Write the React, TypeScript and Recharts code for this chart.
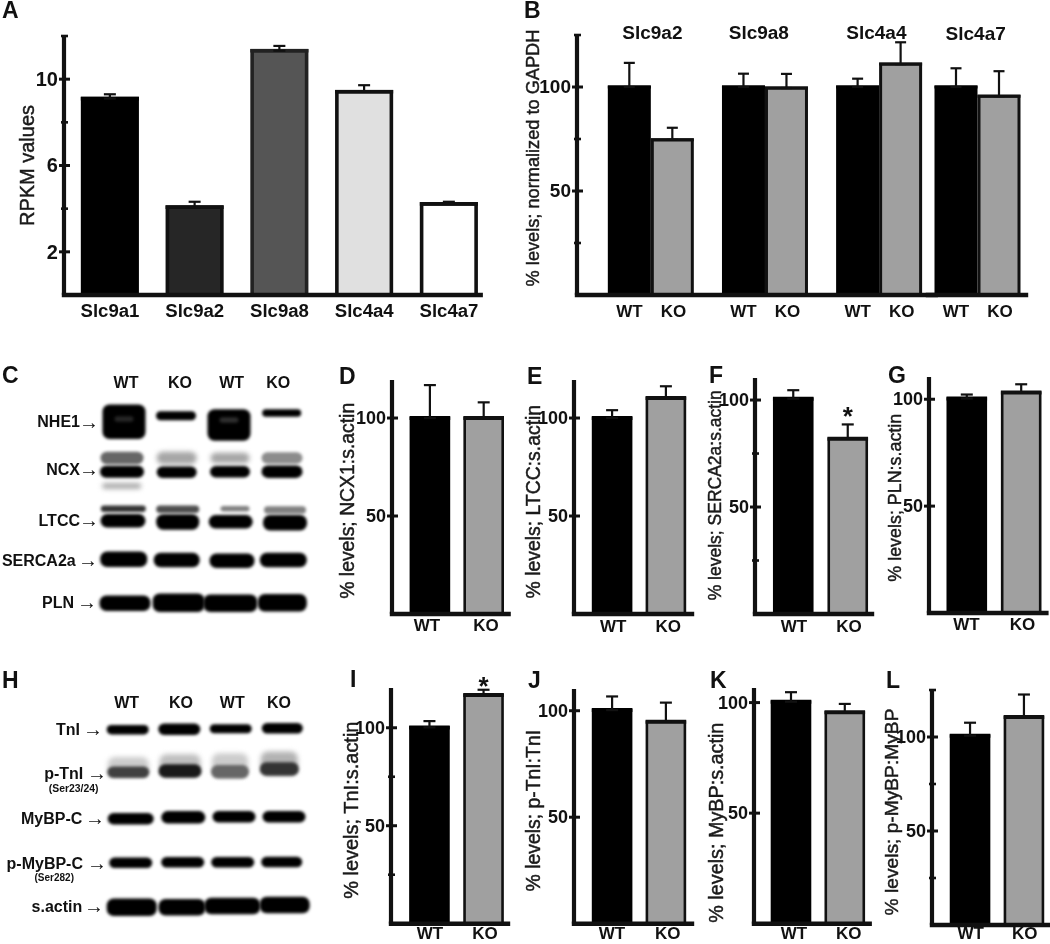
import React from "react";
import {
  BarChart,
  Bar,
  ErrorBar,
  XAxis,
  YAxis,
  ScatterChart,
  Scatter,
} from "recharts";

const FONT = '"Liberation Sans", Arial, sans-serif';
const INK = "#111";
const KO_GRAY = "#a0a0a0";

// panel A
const rpkmGenes = ["Slc9a1", "Slc9a2", "Slc9a8", "Slc4a4", "Slc4a7"];
const rpkmValues = [9.1, 4.07, 11.32, 9.42, 4.22];
const rpkmErrors = [0.2, 0.25, 0.22, 0.3, 0.1];
const rpkmFills = ["#000", "#262626", "#555", "#e0e0e0", "#fff"];

// panel B
const qpcrGenes = ["Slc9a2", "Slc9a8", "Slc4a4"];
const qpcrWt = [100, 100, 100];
const qpcrWtErr = [11.6, 6.4, 4];
const qpcrKo = [74.6, 99.5, 111];
const qpcrKoErr = [5.8, 6.8, 10.5];
const qpcrLastGene = ["Slc4a7"];
const qpcrLastWt = [100];
const qpcrLastWtErr = [9];
const qpcrLastKo = [95.6];
const qpcrLastKoErr = [12];

// panels D-G, I-L (WT, KO)
const groups = ["WT", "KO"];
const ncx1Values = [100, 100];
const ncx1Errors = [16.8, 8];
const ltccValues = [100, 110.2];
const ltccErrors = [4, 6];
const sercaValues = [100.6, 81.9];
const sercaErrors = [4, 6.7];
const plnValues = [100.3, 103.1];
const plnErrors = [1.9, 3.9];
const tniValues = [100.2, 116.7];
const tniErrors = [3.2, 2.7];
const pTniValues = [100.3, 94.8];
const pTniErrors = [6.4, 9];
const mybpValues = [100.4, 95.6];
const mybpErrors = [4.3, 3.8];
const pMybpValues = [100.7, 110.6];
const pMybpErrors = [6.9, 12];

// blots: lane position, migration, band width, band thickness, density
const nhe1Bands = [
  [124, 71.7, 42, 33, 1],
  [176, 65.7, 39, 7.5, 1],
  [229, 75, 42, 30, 1],
  [281.7, 63, 38, 6, 1],
  [124, 69, 18, 4, 0.85],
  [229, 70, 18, 4, 0.82],
];
const ncxBands = [
  [122, 108, 42, 11, 0.6],
  [176.7, 108, 39, 11, 0.35],
  [230, 108, 38, 9, 0.35],
  [282, 108, 40, 10, 0.45],
  [122, 121.7, 43, 10.5, 1],
  [176.7, 122.3, 39, 10, 1],
  [230, 121.7, 39, 10, 1],
  [282, 121.7, 40, 11, 1],
  [121.7, 136, 38, 4, 0.35],
];
const ltccBands = [
  [123.3, 158.7, 44, 5, 0.8],
  [177.7, 159.3, 42, 6, 0.7],
  [235, 158.7, 28, 4, 0.5],
  [285, 160, 41, 6, 0.5],
  [123, 170.7, 44, 12, 1],
  [177.7, 172, 42, 14, 1],
  [230.7, 171.7, 43, 12, 1],
  [285, 172.7, 43, 14, 1],
];
const sercaBands = [
  [123.7, 209.3, 46, 14, 1],
  [176.7, 210, 45, 13, 1],
  [232, 210.7, 44, 13, 1],
  [283.3, 210, 46, 13, 1],
];
const plnBands = [
  [125, 253.3, 50, 14, 1],
  [178.7, 252.7, 51, 17, 1],
  [230.3, 253.3, 53, 16, 1],
  [282.3, 252.7, 48, 16, 1],
];
const tniBands = [
  [127.7, 69.7, 41, 8, 1],
  [179.3, 69.3, 41, 10, 1],
  [230.7, 68.7, 41, 7.5, 1],
  [282.3, 68.3, 40, 9, 1],
];
const pTniBands = [
  [128.3, 106.7, 40, 18, 0.2],
  [180, 105, 40, 20, 0.25],
  [230, 105, 35, 22, 0.2],
  [279.3, 103.3, 36, 22, 0.3],
  [128.3, 112.3, 41, 10, 0.75],
  [180, 111, 42, 12, 0.9],
  [230, 111.7, 37, 12, 0.6],
  [279.3, 109, 38, 12, 0.8],
];
const mybpBands = [
  [130.7, 158.7, 45, 10, 1],
  [183.3, 157.3, 43, 11, 1],
  [234, 156.7, 42, 10, 1],
  [284, 156.7, 42, 10, 1],
];
const pMybpBands = [
  [130.7, 202.7, 42, 9, 1],
  [182.7, 202.3, 42, 9, 1],
  [232.7, 202.3, 42, 9, 1],
  [281.7, 202, 40, 9, 1],
];
const actinBands = [
  [131.7, 247.3, 49, 16, 1],
  [182, 247.3, 46, 15, 1],
  [232.3, 246, 55, 15, 1],
  [284.7, 245, 49, 15, 1],
];

const toBands = (rows: number[][]) =>
  rows.map(([lane, migration, width, thickness, density]) => ({
    lane,
    migration,
    width,
    thickness,
    density,
  }));

const wtKo = (values: number[], errors: number[]) =>
  groups.map((name, i) => ({ name, value: values[i], err: [0, errors[i]] }));

const singleSeries = [{ dataKey: "value", errKey: "err" }];
const pairSeries = [
  { dataKey: "wt", errKey: "wtErr", fill: "#000", stroke: "#000" },
  { dataKey: "ko", errKey: "koErr", fill: KO_GRAY, stroke: INK },
];

function BandShape(props: any) {
  const { cx, cy, payload } = props;
  const g = Math.round(255 * (1 - payload.density));
  const w = payload.width + 1;
  const h = payload.thickness + 1.5;
  return (
    <rect
      x={cx - w / 2}
      y={cy - h / 2}
      width={w}
      height={h}
      rx={Math.min(h / 2, 7)}
      fill={`rgb(${g},${g},${g})`}
      style={{ filter: payload.density < 0.4 ? "blur(2.6px)" : "blur(1.4px)" }}
    />
  );
}

function BlotLabel({ name, end, y, arrow, size = 16 }: any) {
  return (
    <g fontFamily={FONT} fill={INK}>
      <text x={end} y={y} textAnchor="end" dominantBaseline="central" fontSize={size} fontWeight="bold">
        {name}
      </text>
      {arrow != null && (
        <text x={arrow} y={y} dominantBaseline="central" fontSize={20}>
          →
        </text>
      )}
    </g>
  );
}

function Blot({ top, height, rows, header, labels }: any) {
  return (
    <div style={{ position: "absolute", left: 0, top }}>
      <ScatterChart width={340} height={height} margin={{ top: 0, right: 0, bottom: 0, left: 0 }}>
        <XAxis type="number" dataKey="lane" domain={[0, 340]} hide />
        <YAxis type="number" dataKey="migration" domain={[0, height]} reversed hide />
        {rows.map((row: number[][], i: number) => (
          <Scatter key={i} data={toBands(row)} shape={BandShape} isAnimationActive={false} />
        ))}
        {header.map(([name, x, y]: any, i: number) => (
          <text
            key={i}
            x={x}
            y={y}
            textAnchor="middle"
            dominantBaseline="central"
            fontFamily={FONT}
            fontWeight="bold"
            fontSize={16}
            fill={INK}
          >
            {name}
          </text>
        ))}
        {labels.map((l: any, i: number) => (
          <BlotLabel key={i} {...l} />
        ))}
      </ScatterChart>
    </div>
  );
}

const PAD = { left: 70, right: 6, top: 44, bottom: 30 };

function BarPanel(p: any) {
  const {
    plot,
    data,
    series = singleSeries,
    fills = ["#000", KO_GRAY],
    strokes = ["#000", INK],
    centers,
    bandWidth,
    barSize = 38,
    barGap = 0,
    stroke = 2.6,
    topStroke = 4,
    domainMax,
    ticks = [],
    labelled = [],
    tickSize = 18,
    hideY = false,
    tickDy,
    tickDx = [],
    tickSizeX = 17,
    renderTick,
    yLabel,
    capHalf = 6,
    marks,
    markOffset = 0,
  } = p;
  const [x0, x1, yTop, base] = plot;
  const left = x0 - PAD.left;
  const top = yTop - PAD.top;
  const width = x1 - x0 + PAD.left + PAD.right;
  const height = base - yTop + PAD.top + PAD.bottom;

  const band = bandWidth ?? (centers[1] - centers[0]) / (data.length - 1);
  const padding = centers
    ? { left: centers[0] - band / 2 - x0, right: x1 - (centers[1] + band / 2) }
    : { left: 0, right: 0 };

  const yTickFn = ({ x, y, payload }: any) => {
    const on = labelled.includes(payload.value);
    return (
      <g>
        <line x1={x - (on ? 5 : 3)} x2={x + (on ? 6 : 4)} y1={y} y2={y} stroke={INK} strokeWidth={on ? 3 : 2.6} />
        {on && (
          <text
            x={x - 6}
            y={y}
            textAnchor="end"
            dominantBaseline="central"
            fontFamily={FONT}
            fontWeight="bold"
            fontSize={tickSize}
            fill={INK}
          >
            {payload.value}
          </text>
        )}
      </g>
    );
  };

  const xTickFn = ({ x, y, payload, index }: any) =>
    renderTick ? (
      renderTick(x, y, payload.value, index, top)
    ) : (
      <text
        x={x + (tickDx[index] ?? 0)}
        y={y + tickDy}
        textAnchor="middle"
        dominantBaseline="central"
        fontFamily={FONT}
        fontWeight="bold"
        fontSize={tickSizeX}
        fill={INK}
      >
        {payload.value}
      </text>
    );

  const barShape = (fillList: string[], strokeList: string[]) => (b: any) => {
    const i = b.index;
    const fill = fillList[i % fillList.length];
    const edge = strokeList[i % strokeList.length];
    return (
      <g>
        <rect x={b.x} y={b.y} width={b.width} height={b.height} fill={fill} stroke={edge} strokeWidth={stroke} />
        <line x1={b.x - stroke / 2} x2={b.x + b.width + stroke / 2} y1={b.y} y2={b.y} stroke={edge} strokeWidth={topStroke} />
        {marks && marks[i] && (
          <text
            x={b.x + b.width / 2}
            y={b.y - markOffset}
            textAnchor="middle"
            fontFamily={FONT}
            fontWeight="bold"
            fontSize={26}
            fill={INK}
          >
            {marks[i]}
          </text>
        )}
      </g>
    );
  };

  return (
    <div style={{ position: "absolute", left, top }}>
      <BarChart
        width={width}
        height={height}
        data={data}
        barGap={barGap}
        margin={{ top: PAD.top, right: PAD.right, bottom: PAD.bottom - 1, left: PAD.left - 1 }}
      >
        <XAxis
          dataKey="name"
          height={1}
          padding={padding}
          interval={0}
          tickLine={false}
          tickSize={0}
          tickMargin={0}
          axisLine={{ stroke: INK, strokeWidth: 4.4, strokeLinecap: "square" }}
          tick={xTickFn}
        />
        <YAxis
          width={1}
          hide={hideY}
          domain={[0, domainMax]}
          ticks={ticks}
          interval={0}
          tickLine={false}
          tickSize={0}
          tickMargin={0}
          axisLine={{ stroke: INK, strokeWidth: 4.2 }}
          tick={yTickFn}
        />
        {series.map((s: any) => (
          <Bar
            key={s.dataKey}
            dataKey={s.dataKey}
            barSize={barSize}
            isAnimationActive={false}
            shape={barShape(s.fill ? [s.fill] : fills, s.stroke ? [s.stroke] : strokes)}
          >
            <ErrorBar dataKey={s.errKey} direction="y" width={capHalf} stroke={INK} strokeWidth={2.2} isAnimationActive={false} />
          </Bar>
        ))}
        {yLabel && (
          <text
            transform={`translate(${yLabel.x - left},${yLabel.y - top}) rotate(-90)`}
            textAnchor="middle"
            dominantBaseline="central"
            fontFamily={FONT}
            fontSize={yLabel.size}
            fill="#1a1a1a"
            stroke="#1a1a1a"
            strokeWidth={0.45}
          >
            {yLabel.text}
          </text>
        )}
      </BarChart>
    </div>
  );
}

const pairTick = (titleNudge: number[]) => (x: number, y: number, value: string, index: number, top: number) => (
  <g fontFamily={FONT} fontWeight="bold" fill={INK} textAnchor="middle" dominantBaseline="central">
    <text x={x - 21} y={y + 16.7} fontSize={17}>
      WT
    </text>
    <text x={x + 23} y={y + 16.7} fontSize={17}>
      KO
    </text>
    <text x={x + titleNudge[index]} y={33 - top} fontSize={19}>
      {value}
    </text>
  </g>
);

const letters: [string, number, number][] = [
  ["A", 2, 18],
  ["B", 524, 18],
  ["C", 2, 383],
  ["D", 339, 384],
  ["E", 527, 384],
  ["F", 709, 383],
  ["G", 888, 383],
  ["H", 2, 688],
  ["I", 350, 687],
  ["J", 528, 688],
  ["K", 710, 688],
  ["L", 886, 688],
];

const blotCHeader = [
  ["WT", 126, 32],
  ["KO", 180, 32],
  ["WT", 231.7, 32],
  ["KO", 278.3, 32],
];
const blotCLabels = [
  { name: "NHE1", end: 80, y: 71.7, arrow: 79 },
  { name: "NCX", end: 80, y: 119, arrow: 79 },
  { name: "LTCC", end: 80, y: 170, arrow: 79 },
  { name: "SERCA2a", end: 75.7, y: 210, arrow: 78 },
  { name: "PLN", end: 74, y: 252.3, arrow: 77 },
];
const blotHHeader = [
  ["WT", 126.7, 42.3],
  ["KO", 181, 42.3],
  ["WT", 232.3, 42.3],
  ["KO", 279, 42.3],
];
const blotHLabels = [
  { name: "TnI", end: 80, y: 69.3, arrow: 83 },
  { name: "p-TnI", end: 83.3, y: 113.3, arrow: 87 },
  { name: "(Ser23/24)", end: 98.5, y: 128.3, size: 10.4 },
  { name: "MyBP-C", end: 82.3, y: 158.3, arrow: 85 },
  { name: "p-MyBP-C", end: 83, y: 203.3, arrow: 87 },
  { name: "(Ser282)", end: 74, y: 217.3, size: 10 },
  { name: "s.actin", end: 82.3, y: 246, arrow: 84 },
];

export default function App() {
  const rpkmData = rpkmGenes.map((name, i) => ({ name, value: rpkmValues[i], err: [0, rpkmErrors[i]] }));
  const qpcrData = qpcrGenes.map((name, i) => ({
    name,
    wt: qpcrWt[i],
    ko: qpcrKo[i],
    wtErr: [0, qpcrWtErr[i]],
    koErr: [0, qpcrKoErr[i]],
  }));
  const qpcrLastData = qpcrLastGene.map((name, i) => ({
    name,
    wt: qpcrLastWt[i],
    ko: qpcrLastKo[i],
    wtErr: [0, qpcrLastWtErr[i]],
    koErr: [0, qpcrLastKoErr[i]],
  }));

  return (
    <div
      style={{
        position: "absolute",
        left: 0,
        top: 0,
        width: 1050,
        height: 944,
        overflow: "hidden",
        background: "#fff",
        filter: "blur(0.35px)",
      }}
    >
      <BarPanel
        plot={[64, 480.7, 36, 295]}
        data={rpkmData}
        fills={rpkmFills}
        strokes={["#000", "#111", "#222", "#111", "#111"]}
        centers={[110, 449]}
        bandWidth={84.75}
        barSize={54.5}
        stroke={3.6}
        topStroke={3.6}
        domainMax={12}
        ticks={[2, 4, 6, 8, 10, 12]}
        labelled={[2, 6, 10]}
        tickSize={20}
        tickDy={15.7}
        tickSizeX={18.6}
        yLabel={{ text: "RPKM values", x: 27, y: 165.5, size: 20 }}
      />
      <BarPanel
        plot={[577.3, 936, 35, 295]}
        data={qpcrData}
        series={pairSeries}
        centers={[650.7, 879]}
        barSize={40}
        barGap={3}
        stroke={3}
        topStroke={3}
        domainMax={125}
        ticks={[25, 50, 75, 100, 125]}
        labelled={[50, 100]}
        tickSize={19}
        renderTick={pairTick([2, -5.7, -2.3])}
        yLabel={{ text: "% levels; normalized to GAPDH", x: 533, y: 158, size: 18.2 }}
        capHalf={5.5}
      />
      <BarPanel
        plot={[929, 1026, 35, 295]}
        data={qpcrLastData}
        series={pairSeries}
        bandWidth={97}
        barSize={40}
        barGap={3}
        stroke={3}
        topStroke={3}
        domainMax={125}
        hideY
        renderTick={pairTick([-1.3])}
        capHalf={5.5}
      />

      <Blot
        top={350}
        height={300}
        rows={[nhe1Bands, ncxBands, ltccBands, sercaBands, plnBands]}
        header={blotCHeader}
        labels={blotCLabels}
      />
      <Blot
        top={660}
        height={284}
        rows={[tniBands, pTniBands, mybpBands, pMybpBands, actinBands]}
        header={blotHHeader}
        labels={blotHLabels}
      />

      <BarPanel
        plot={[391.7, 508.3, 380, 614]}
        data={wtKo(ncx1Values, ncx1Errors)}
        centers={[429.5, 483.3]}
        domainMax={119.4}
        ticks={[50, 100]}
        labelled={[50, 100]}
        tickDy={12}
        tickDx={[-2.8, 2.4]}
        yLabel={{ text: "% levels; NCX1:s.actin", x: 346.7, y: 500.8, size: 19.4 }}
      />
      <BarPanel
        plot={[574, 692, 380, 614]}
        data={wtKo(ltccValues, ltccErrors)}
        centers={[612, 665.8]}
        domainMax={119.4}
        ticks={[50, 100]}
        labelled={[50, 100]}
        tickDy={12}
        tickDx={[1.3, 2.5]}
        yLabel={{ text: "% levels; LTCC:s.actin", x: 533.3, y: 501.7, size: 19.4 }}
      />
      <BarPanel
        plot={[755.3, 872.3, 378, 614]}
        data={wtKo(sercaValues, sercaErrors)}
        centers={[793.8, 848.3]}
        domainMax={110.3}
        ticks={[25, 50, 75, 100]}
        labelled={[50, 100]}
        tickDy={12}
        tickDx={[0.5, 1]}
        marks={["", "*"]}
        markOffset={13.6}
        yLabel={{ text: "% levels; SERCA2a:s.actin", x: 715, y: 495.3, size: 17.5 }}
      />
      <BarPanel
        plot={[929.3, 1046.7, 377.3, 613.3]}
        data={wtKo(plnValues, plnErrors)}
        centers={[967.3, 1021.7]}
        domainMax={110.4}
        ticks={[50, 100]}
        labelled={[50, 100]}
        tickDy={12}
        tickDx={[-0.6, 1]}
        yLabel={{ text: "% levels; PLN:s.actin", x: 895, y: 498, size: 17.9 }}
      />

      <BarPanel
        plot={[391, 508, 688.3, 924]}
        data={wtKo(tniValues, tniErrors)}
        centers={[429.5, 483.6]}
        domainMax={120.3}
        ticks={[25, 50, 75, 100]}
        labelled={[50, 100]}
        tickDy={10}
        tickDx={[0.5, 1.4]}
        marks={["", "*"]}
        markOffset={0}
        yLabel={{ text: "% levels; TnI:s.actin", x: 350.7, y: 810.5, size: 20 }}
      />
      <BarPanel
        plot={[574, 692, 689.3, 924]}
        data={wtKo(pTniValues, pTniErrors)}
        centers={[612, 665.8]}
        domainMax={110.2}
        ticks={[50, 100]}
        labelled={[50, 100]}
        tickDy={10}
        tickDx={[0, 1.9]}
        yLabel={{ text: "% levels; p-TnI:TnI", x: 533.3, y: 811, size: 19.4 }}
      />
      <BarPanel
        plot={[754.3, 870, 688.3, 924]}
        data={wtKo(mybpValues, mybpErrors)}
        centers={[791.2, 845]}
        domainMax={106.6}
        ticks={[50, 100]}
        labelled={[50, 100]}
        tickDy={10}
        tickDx={[3.1, 4]}
        yLabel={{ text: "% levels; MyBP:s.actin", x: 716.7, y: 823, size: 19.8 }}
      />
      <BarPanel
        plot={[932.3, 1049, 690, 925]}
        data={wtKo(pMybpValues, pMybpErrors)}
        centers={[970.3, 1024.2]}
        domainMax={125}
        ticks={[25, 50, 75, 100, 125]}
        labelled={[50, 100]}
        tickDy={9}
        tickDx={[0.7, 0.8]}
        yLabel={{ text: "% levels; p-MyBP:MyBP", x: 891.7, y: 812, size: 19.2 }}
      />

      {letters.map(([name, x, y]) => (
        <span
          key={name}
          style={{
            position: "absolute",
            left: x,
            top: y - 17.6,
            fontFamily: FONT,
            fontWeight: "bold",
            fontSize: 23,
            lineHeight: "20px",
            color: INK,
          }}
        >
          {name}
        </span>
      ))}
    </div>
  );
}
